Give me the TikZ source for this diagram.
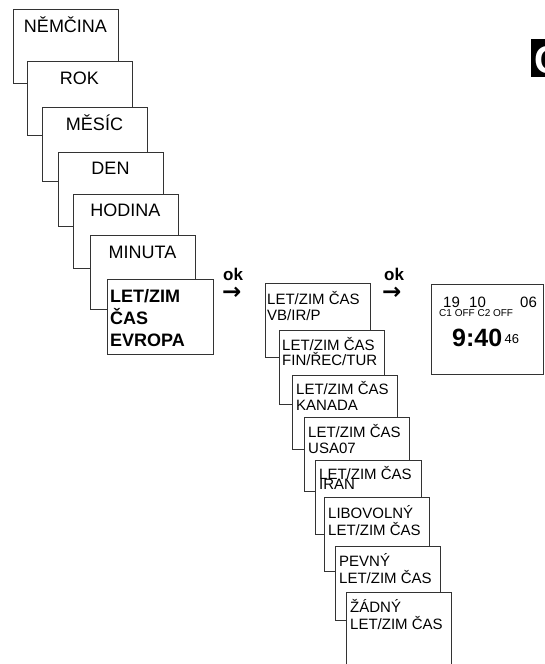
\documentclass[tikz,border=0pt]{standalone}
\usepackage{fontspec}
\setmainfont{Liberation Sans}
\newfontfamily\arrowfont{DejaVu Sans}
\begin{document}
\begin{tikzpicture}[x=1pt,y=-1pt,
  scr/.style={draw=black!80, line width=0.9pt, fill=white, rectangle, anchor=north west,
    minimum width=105pt, minimum height=74pt, inner sep=0pt, outer sep=0pt},
  big/.style={font=\fontsize{18}{20}\selectfont, inner sep=0pt, anchor=base},
  bigb/.style={font=\bfseries\fontsize{18}{20}\selectfont, inner sep=0pt, anchor=base west},
  sml/.style={font=\fontsize{15}{16}\selectfont, inner sep=0pt, anchor=base west},
  okf/.style={font=\bfseries\fontsize{17}{18}\selectfont, inner sep=0pt, anchor=base west},
  arr/.style={font=\arrowfont\bfseries\fontsize{23}{23}\selectfont, inner sep=0pt, anchor=base west},
  ]
\useasboundingbox (0,0) rectangle (545,664);
% top right black block
\node[fill=black, anchor=north west, minimum width=20pt, minimum height=38pt, inner sep=0pt] (blk) at (531,39) {};
\node[font=\bfseries\fontsize{39}{40}\selectfont, text=white, inner sep=0pt, anchor=base west] (blkc) at (534,73) {C};
% left column
\node[scr] (b1) at (13,9) {};
\node[big] (t1) at (65.5,32) {NĚMČINA};
\node[scr] (b2) at (27,61) {};
\node[big] (t2) at (79.5,84) {ROK};
\node[scr] (b3) at (42,107) {};
\node[big] (t3) at (94.5,130) {MĚSÍC};
\node[scr] (b4) at (58,152) {};
\node[big] (t4) at (110.5,174) {DEN};
\node[scr] (b5) at (73,194) {};
\node[big] (t5) at (125.5,216) {HODINA};
\node[scr] (b6) at (90,235) {};
\node[big] (t6) at (142.5,258) {MINUTA};
\node[scr, minimum width=106pt, minimum height=75pt] (b7) at (107,279) {};
\node[bigb] (t7a) at (110,302) {LET/ZIM};
\node[bigb] (t7b) at (110,324) {ČAS};
\node[bigb] (t7c) at (110,346) {EVROPA};
% first ok arrow
\node[okf] (ok1) at (223,280) {ok};
\node[arr] (ar1) at (222,299) {→};
% second column
\node[scr] (c1) at (265,283) {};
\node[sml] (s1a) at (267,304) {LET/ZIM ČAS};
\node[sml] (s1b) at (267,320) {VB/IR/P};
\node[scr] (c2) at (279,330) {};
\node[sml] (s2a) at (282,350) {LET/ZIM ČAS};
\node[sml] (s2b) at (282,365) {FIN/ŘEC/TUR};
\node[scr] (c3) at (292,375) {};
\node[sml] (s3a) at (296,394) {LET/ZIM ČAS};
\node[sml] (s3b) at (296,410) {KANADA};
\node[scr] (c4) at (304,417) {};
\node[sml] (s4a) at (308,437) {LET/ZIM ČAS};
\node[sml] (s4b) at (308,453) {USA07};
\node[scr, minimum width=106pt] (c5) at (315,460) {};
\node[sml] (s5a) at (319,479) {LET/ZIM ČAS};
\node[sml] (s5b) at (319,489) {IRAN};
\node[scr] (c6) at (324,497) {};
\node[sml] (s6a) at (328,518) {LIBOVOLNÝ};
\node[sml] (s6b) at (328,535) {LET/ZIM ČAS};
\node[scr] (c7) at (335,546) {};
\node[sml] (s7a) at (339,566) {PEVNÝ};
\node[sml] (s7b) at (339,583) {LET/ZIM ČAS};
\node[scr, minimum height=90pt] (c8) at (346,592) {};
\node[sml] (s8a) at (350,612) {ŽÁDNÝ};
\node[sml] (s8b) at (350,629) {LET/ZIM ČAS};
% second ok arrow
\node[okf] (ok2) at (384,280) {ok};
\node[arr] (ar2) at (382,299) {→};
% clock display
\node[scr, minimum width=112.5pt, minimum height=90pt] (clk) at (431,284) {};
\node[sml] (d1) at (443,307) {19};
\node[sml] (d2) at (469,307) {10};
\node[sml] (d3) at (520,307) {06};
\node[font=\fontsize{10}{10}\selectfont, inner sep=0pt, anchor=base west] (d4) at (439,316) {C1 OFF C2 OFF};
\node[font=\bfseries\fontsize{25}{25}\selectfont, inner sep=0pt, anchor=base west] (d5) at (452,346) {9:40};
\node[font=\fontsize{13}{13}\selectfont, inner sep=0pt, anchor=base west] (d6) at (504.5,343) {46};
\end{tikzpicture}
\end{document}
